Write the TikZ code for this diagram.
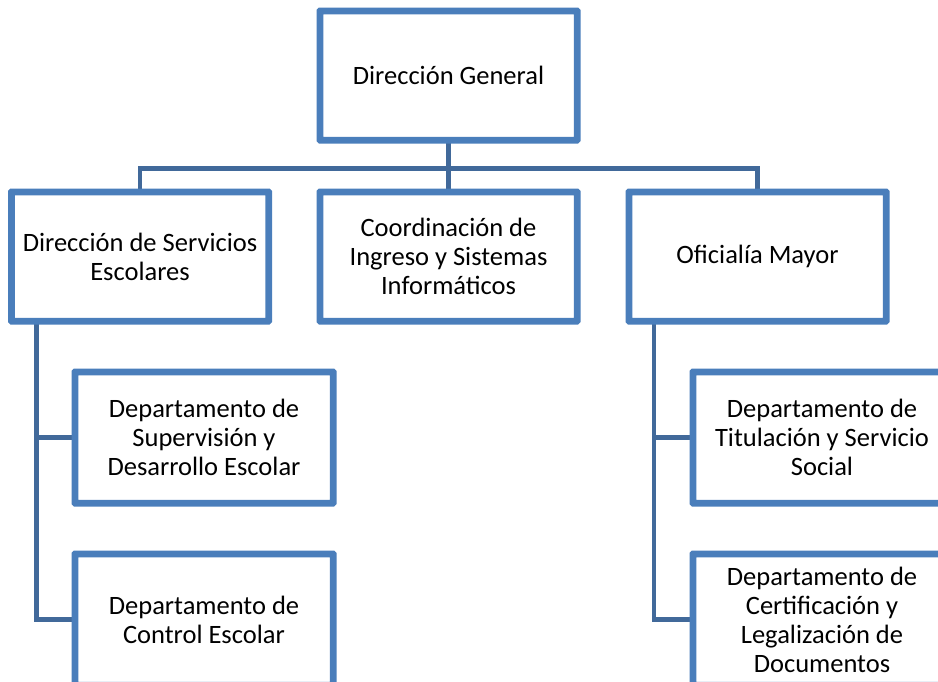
\documentclass[tikz,border=0pt]{standalone}
\usepackage{fontspec}
\setmainfont{Carlito}
\definecolor{boxblue}{HTML}{4A7EBB}
\definecolor{connblue}{HTML}{41699A}
\begin{document}
\begin{tikzpicture}[x=1pt,y=-1pt,
  orgbox/.style={draw=boxblue, line width=4.5pt, rounded corners=1pt, fill=white,
    minimum width=255pt, minimum height=127pt, inner sep=0pt, align=center,
    font=\fontsize{26.5}{29}\selectfont},
  subbox/.style={orgbox, minimum width=256pt, minimum height=129pt},
  conn/.style={draw=connblue, line width=4.5pt}]
\useasboundingbox (0,0) rectangle (938,681);
\clip (0,0) rectangle (938,681);
\node[orgbox] (dg) at (448.5,75.5) {Dirección General};
\node[orgbox] (dse) at (140,256.5) {Dirección de Servicios\\Escolares};
\node[orgbox] (cis) at (448.5,256.5) {Coordinación de\\Ingreso y Sistemas\\Informáticos};
\node[orgbox] (om) at (757.5,256.5) {Oficialía Mayor};
\draw[conn] (dg.south) -- ++(0,27) -| (dse.north);
\draw[conn] (dg.south) -- (cis.north);
\draw[conn] (dg.south) -- ++(0,27) -| (om.north);
\node[subbox] (sde) at (204,437.5) {Departamento de\\Supervisión y\\Desarrollo Escolar};
\node[subbox] (dce) at (204,619.5) {Departamento de\\Control Escolar};
\node[subbox] (tss) at (822,437.5) {Departamento de\\Titulación y Servicio\\Social};
\node[subbox] (cld) at (822,619.5) {Departamento de\\Certificación y\\Legalización de\\Documentos};
\draw[conn] ([xshift=26pt]dse.south west) |- (sde.west);
\draw[conn] ([xshift=26pt]dse.south west) |- (dce.west);
\draw[conn] ([xshift=26pt]om.south west) |- (tss.west);
\draw[conn] ([xshift=26pt]om.south west) |- (cld.west);
\foreach \n in {dg,dse,cis,om,sde,dce,tss,cld}
  \draw[boxblue, line width=4.5pt, rounded corners=1pt] (\n.north west) rectangle (\n.south east);
\end{tikzpicture}
\end{document}
